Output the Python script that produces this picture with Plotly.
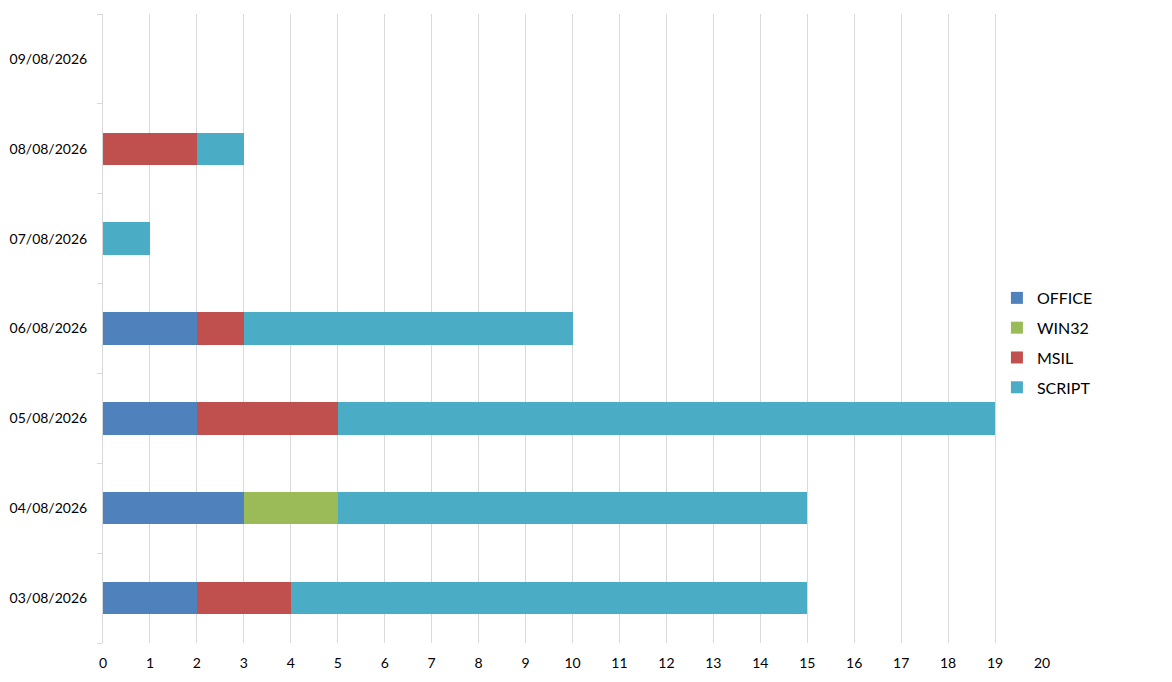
import plotly.graph_objects as go

dates = ["03/08/2026", "04/08/2026", "05/08/2026", "06/08/2026",
         "07/08/2026", "08/08/2026", "09/08/2026"]
office = [2, 3, 2, 2, 0, 0, 0]
win32 = [0, 2, 0, 0, 0, 0, 0]
msil = [2, 0, 3, 1, 0, 2, 0]
script = [11, 10, 14, 7, 1, 1, 0]

series = [("OFFICE", office, "#4F81BD"),
          ("WIN32", win32, "#9BBB59"),
          ("MSIL", msil, "#C0504D"),
          ("SCRIPT", script, "#4BACC6")]

fig = go.Figure()
for name, vals, col in series:
    fig.add_trace(go.Bar(y=dates, x=vals, name=name, orientation="h",
                         legendgroup=name,
                         marker=dict(color=col, line=dict(width=0))))

# page body has an 8px margin, so the margins are shifted by that
fig.update_layout(
    barmode="stack",
    bargap=0.64,
    width=1172, height=682,
    margin=dict(l=95, r=138, t=6, b=47),
    plot_bgcolor="white",
    paper_bgcolor="white",
    font=dict(family="Lato, Open Sans, sans-serif", size=14, color="black"),
    legend=dict(x=0.952, y=0.477, xanchor="left", yanchor="middle",
                traceorder="grouped", font=dict(size=16),
                itemwidth=30, tracegroupgap=6),
    showlegend=True,
)

fig.update_xaxes(range=[0, 20], dtick=1, tick0=0,
                 showgrid=True, gridcolor="#d9d9d9", gridwidth=1,
                 zeroline=False, showline=False, ticks="",
                 ticklabelstandoff=10)
fig.update_yaxes(type="category", categoryorder="array", categoryarray=dates,
                 showgrid=False, zeroline=False, automargin=False,
                 showline=True, linecolor="#d9d9d9",
                 ticks="outside", tickson="boundaries", ticklen=5,
                 tickcolor="#d9d9d9", ticklabelstandoff=12)

fig.write_html("out.html")
